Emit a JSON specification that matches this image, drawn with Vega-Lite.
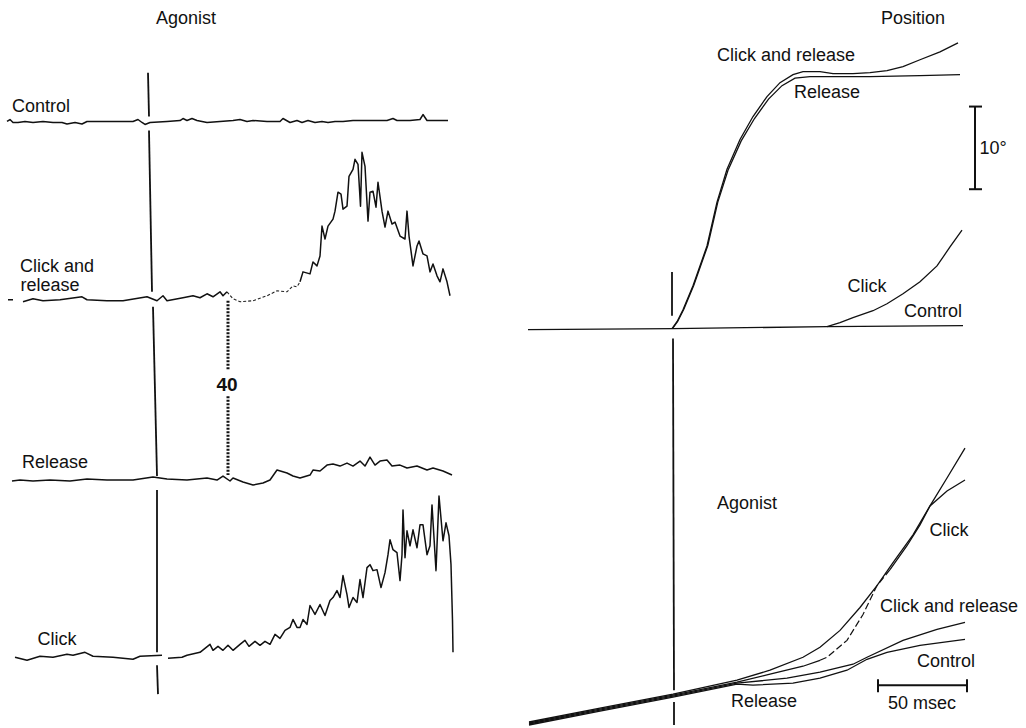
{
  "$schema": "https://vega.github.io/schema/vega-lite/v6.json",
  "width": 1026,
  "height": 728,
  "autosize": {"type": "fit", "contains": "padding"},
  "padding": 0,
  "background": "white",
  "config": {"view": {"stroke": null}},
  "datasets": {
    "traces": [
      {"s": "L_control", "x": 7, "y": 122}, {"s": "L_control", "x": 10, "y": 120}, {"s": "L_control", "x": 13, "y": 123}, {"s": "L_control", "x": 18, "y": 123}, {"s": "L_control", "x": 25, "y": 122}, {"s": "L_control", "x": 33, "y": 123}, {"s": "L_control", "x": 43, "y": 122}, {"s": "L_control", "x": 53, "y": 123}, {"s": "L_control", "x": 62, "y": 123}, {"s": "L_control", "x": 67, "y": 124.5}, {"s": "L_control", "x": 75, "y": 123}, {"s": "L_control", "x": 82, "y": 124.5}, {"s": "L_control", "x": 87, "y": 122}, {"s": "L_control", "x": 100, "y": 122}, {"s": "L_control", "x": 117, "y": 122}, {"s": "L_control", "x": 133, "y": 122}, {"s": "L_control", "x": 138, "y": 120}, {"s": "L_control", "x": 142, "y": 123}, {"s": "L_control", "x": 145, "y": 125}, {"s": "L_control", "x": 150, "y": 123}, {"s": "L_control", "x": 167, "y": 122}, {"s": "L_control", "x": 180, "y": 121}, {"s": "L_control", "x": 183, "y": 119}, {"s": "L_control", "x": 187, "y": 121}, {"s": "L_control", "x": 192, "y": 119}, {"s": "L_control", "x": 197, "y": 121}, {"s": "L_control", "x": 207, "y": 123}, {"s": "L_control", "x": 220, "y": 122}, {"s": "L_control", "x": 233, "y": 121}, {"s": "L_control", "x": 240, "y": 120}, {"s": "L_control", "x": 247, "y": 122}, {"s": "L_control", "x": 253, "y": 121}, {"s": "L_control", "x": 267, "y": 122}, {"s": "L_control", "x": 280, "y": 122}, {"s": "L_control", "x": 283, "y": 119}, {"s": "L_control", "x": 290, "y": 123}, {"s": "L_control", "x": 297, "y": 121}, {"s": "L_control", "x": 302, "y": 123}, {"s": "L_control", "x": 308, "y": 121}, {"s": "L_control", "x": 315, "y": 123}, {"s": "L_control", "x": 322, "y": 122}, {"s": "L_control", "x": 328, "y": 123}, {"s": "L_control", "x": 335, "y": 122}, {"s": "L_control", "x": 343, "y": 122}, {"s": "L_control", "x": 353, "y": 121}, {"s": "L_control", "x": 367, "y": 121}, {"s": "L_control", "x": 380, "y": 121}, {"s": "L_control", "x": 387, "y": 121}, {"s": "L_control", "x": 393, "y": 119}, {"s": "L_control", "x": 397, "y": 121}, {"s": "L_control", "x": 410, "y": 121}, {"s": "L_control", "x": 420, "y": 120}, {"s": "L_control", "x": 423, "y": 115}, {"s": "L_control", "x": 427, "y": 121}, {"s": "L_control", "x": 437, "y": 121}, {"s": "L_control", "x": 448, "y": 121},
      {"s": "L_crd", "x": 8, "y": 301}, {"s": "L_crd", "x": 13, "y": 301},
      {"s": "L_cr1", "x": 23, "y": 303}, {"s": "L_cr1", "x": 33, "y": 300}, {"s": "L_cr1", "x": 43, "y": 302}, {"s": "L_cr1", "x": 60, "y": 301}, {"s": "L_cr1", "x": 82, "y": 298}, {"s": "L_cr1", "x": 87, "y": 301}, {"s": "L_cr1", "x": 107, "y": 302}, {"s": "L_cr1", "x": 123, "y": 302}, {"s": "L_cr1", "x": 147, "y": 298}, {"s": "L_cr1", "x": 157, "y": 302}, {"s": "L_cr1", "x": 163, "y": 297}, {"s": "L_cr1", "x": 167, "y": 302}, {"s": "L_cr1", "x": 183, "y": 299}, {"s": "L_cr1", "x": 193, "y": 297}, {"s": "L_cr1", "x": 200, "y": 299}, {"s": "L_cr1", "x": 207, "y": 295}, {"s": "L_cr1", "x": 213, "y": 298}, {"s": "L_cr1", "x": 220, "y": 293}, {"s": "L_cr1", "x": 223, "y": 297}, {"s": "L_cr1", "x": 227, "y": 293},
      {"s": "L_cr2", "x": 227, "y": 293}, {"s": "L_cr2", "x": 233, "y": 300}, {"s": "L_cr2", "x": 240, "y": 303}, {"s": "L_cr2", "x": 253, "y": 302}, {"s": "L_cr2", "x": 267, "y": 297}, {"s": "L_cr2", "x": 277, "y": 292}, {"s": "L_cr2", "x": 287, "y": 293}, {"s": "L_cr2", "x": 293, "y": 287}, {"s": "L_cr2", "x": 297, "y": 288}, {"s": "L_cr2", "x": 300, "y": 283},
      {"s": "L_cr3", "x": 300, "y": 283}, {"s": "L_cr3", "x": 303, "y": 273}, {"s": "L_cr3", "x": 310, "y": 275}, {"s": "L_cr3", "x": 313, "y": 263}, {"s": "L_cr3", "x": 317, "y": 267}, {"s": "L_cr3", "x": 320, "y": 257}, {"s": "L_cr3", "x": 322, "y": 227}, {"s": "L_cr3", "x": 325, "y": 240}, {"s": "L_cr3", "x": 328, "y": 227}, {"s": "L_cr3", "x": 333, "y": 220}, {"s": "L_cr3", "x": 335, "y": 212}, {"s": "L_cr3", "x": 338, "y": 193}, {"s": "L_cr3", "x": 341, "y": 195}, {"s": "L_cr3", "x": 343, "y": 210}, {"s": "L_cr3", "x": 347, "y": 207}, {"s": "L_cr3", "x": 349, "y": 177}, {"s": "L_cr3", "x": 353, "y": 170}, {"s": "L_cr3", "x": 355, "y": 160}, {"s": "L_cr3", "x": 358, "y": 165}, {"s": "L_cr3", "x": 360.5, "y": 207}, {"s": "L_cr3", "x": 362, "y": 153}, {"s": "L_cr3", "x": 365, "y": 167}, {"s": "L_cr3", "x": 368, "y": 222}, {"s": "L_cr3", "x": 370, "y": 193}, {"s": "L_cr3", "x": 373, "y": 192}, {"s": "L_cr3", "x": 376, "y": 208}, {"s": "L_cr3", "x": 378, "y": 183}, {"s": "L_cr3", "x": 382, "y": 212}, {"s": "L_cr3", "x": 385, "y": 228}, {"s": "L_cr3", "x": 388, "y": 212}, {"s": "L_cr3", "x": 392, "y": 225}, {"s": "L_cr3", "x": 395, "y": 223}, {"s": "L_cr3", "x": 400, "y": 237}, {"s": "L_cr3", "x": 405, "y": 240}, {"s": "L_cr3", "x": 407, "y": 212}, {"s": "L_cr3", "x": 409, "y": 237}, {"s": "L_cr3", "x": 413, "y": 267}, {"s": "L_cr3", "x": 417, "y": 247}, {"s": "L_cr3", "x": 419, "y": 242}, {"s": "L_cr3", "x": 423, "y": 255}, {"s": "L_cr3", "x": 427, "y": 257}, {"s": "L_cr3", "x": 430, "y": 273}, {"s": "L_cr3", "x": 433, "y": 265}, {"s": "L_cr3", "x": 437, "y": 277}, {"s": "L_cr3", "x": 440, "y": 283}, {"s": "L_cr3", "x": 443, "y": 270}, {"s": "L_cr3", "x": 447, "y": 283}, {"s": "L_cr3", "x": 450, "y": 297},
      {"s": "L_release", "x": 12, "y": 483}, {"s": "L_release", "x": 20, "y": 482}, {"s": "L_release", "x": 33, "y": 483}, {"s": "L_release", "x": 50, "y": 482}, {"s": "L_release", "x": 70, "y": 483}, {"s": "L_release", "x": 87, "y": 481}, {"s": "L_release", "x": 107, "y": 482}, {"s": "L_release", "x": 133, "y": 482}, {"s": "L_release", "x": 153, "y": 479}, {"s": "L_release", "x": 167, "y": 481}, {"s": "L_release", "x": 187, "y": 482}, {"s": "L_release", "x": 207, "y": 480}, {"s": "L_release", "x": 217, "y": 482}, {"s": "L_release", "x": 223, "y": 478}, {"s": "L_release", "x": 230, "y": 483}, {"s": "L_release", "x": 233, "y": 480}, {"s": "L_release", "x": 243, "y": 484}, {"s": "L_release", "x": 253, "y": 487}, {"s": "L_release", "x": 263, "y": 485}, {"s": "L_release", "x": 270, "y": 482}, {"s": "L_release", "x": 277, "y": 472}, {"s": "L_release", "x": 287, "y": 475}, {"s": "L_release", "x": 293, "y": 478}, {"s": "L_release", "x": 300, "y": 480}, {"s": "L_release", "x": 310, "y": 477}, {"s": "L_release", "x": 313, "y": 472}, {"s": "L_release", "x": 320, "y": 473}, {"s": "L_release", "x": 327, "y": 467}, {"s": "L_release", "x": 333, "y": 466}, {"s": "L_release", "x": 340, "y": 468}, {"s": "L_release", "x": 347, "y": 465}, {"s": "L_release", "x": 353, "y": 468}, {"s": "L_release", "x": 360, "y": 463}, {"s": "L_release", "x": 365, "y": 468}, {"s": "L_release", "x": 370, "y": 459}, {"s": "L_release", "x": 375, "y": 467}, {"s": "L_release", "x": 380, "y": 463}, {"s": "L_release", "x": 387, "y": 462}, {"s": "L_release", "x": 392, "y": 468}, {"s": "L_release", "x": 400, "y": 467}, {"s": "L_release", "x": 407, "y": 470}, {"s": "L_release", "x": 417, "y": 468}, {"s": "L_release", "x": 427, "y": 472}, {"s": "L_release", "x": 433, "y": 470}, {"s": "L_release", "x": 443, "y": 473}, {"s": "L_release", "x": 452, "y": 477},
      {"s": "L_click_a", "x": 15, "y": 660}, {"s": "L_click_a", "x": 27, "y": 663}, {"s": "L_click_a", "x": 40, "y": 659}, {"s": "L_click_a", "x": 53, "y": 660}, {"s": "L_click_a", "x": 67, "y": 657}, {"s": "L_click_a", "x": 73, "y": 658}, {"s": "L_click_a", "x": 85, "y": 655}, {"s": "L_click_a", "x": 93, "y": 659}, {"s": "L_click_a", "x": 113, "y": 660}, {"s": "L_click_a", "x": 133, "y": 662}, {"s": "L_click_a", "x": 140, "y": 659}, {"s": "L_click_a", "x": 162, "y": 658},
      {"s": "L_click_b", "x": 168, "y": 661}, {"s": "L_click_b", "x": 182, "y": 660}, {"s": "L_click_b", "x": 187, "y": 658}, {"s": "L_click_b", "x": 200, "y": 655}, {"s": "L_click_b", "x": 210, "y": 647}, {"s": "L_click_b", "x": 213, "y": 653}, {"s": "L_click_b", "x": 218, "y": 649}, {"s": "L_click_b", "x": 223, "y": 653}, {"s": "L_click_b", "x": 228, "y": 648}, {"s": "L_click_b", "x": 233, "y": 653}, {"s": "L_click_b", "x": 240, "y": 647}, {"s": "L_click_b", "x": 245, "y": 643}, {"s": "L_click_b", "x": 249, "y": 649}, {"s": "L_click_b", "x": 255, "y": 644}, {"s": "L_click_b", "x": 260, "y": 648}, {"s": "L_click_b", "x": 265, "y": 644}, {"s": "L_click_b", "x": 270, "y": 647}, {"s": "L_click_b", "x": 275, "y": 637}, {"s": "L_click_b", "x": 280, "y": 641}, {"s": "L_click_b", "x": 285, "y": 633}, {"s": "L_click_b", "x": 290, "y": 630}, {"s": "L_click_b", "x": 293, "y": 622}, {"s": "L_click_b", "x": 297, "y": 630}, {"s": "L_click_b", "x": 300, "y": 630}, {"s": "L_click_b", "x": 303, "y": 622}, {"s": "L_click_b", "x": 307, "y": 627}, {"s": "L_click_b", "x": 310, "y": 608}, {"s": "L_click_b", "x": 315, "y": 617}, {"s": "L_click_b", "x": 320, "y": 607}, {"s": "L_click_b", "x": 325, "y": 618}, {"s": "L_click_b", "x": 330, "y": 603}, {"s": "L_click_b", "x": 333, "y": 600}, {"s": "L_click_b", "x": 337, "y": 593}, {"s": "L_click_b", "x": 340, "y": 600}, {"s": "L_click_b", "x": 343, "y": 578}, {"s": "L_click_b", "x": 347, "y": 597}, {"s": "L_click_b", "x": 349, "y": 610}, {"s": "L_click_b", "x": 353, "y": 600}, {"s": "L_click_b", "x": 357, "y": 605}, {"s": "L_click_b", "x": 360, "y": 582}, {"s": "L_click_b", "x": 363, "y": 600}, {"s": "L_click_b", "x": 367, "y": 570}, {"s": "L_click_b", "x": 370, "y": 567}, {"s": "L_click_b", "x": 373, "y": 573}, {"s": "L_click_b", "x": 377, "y": 572}, {"s": "L_click_b", "x": 381, "y": 590}, {"s": "L_click_b", "x": 385, "y": 575}, {"s": "L_click_b", "x": 388, "y": 557}, {"s": "L_click_b", "x": 390, "y": 542}, {"s": "L_click_b", "x": 393, "y": 552}, {"s": "L_click_b", "x": 397, "y": 555}, {"s": "L_click_b", "x": 400, "y": 583}, {"s": "L_click_b", "x": 402, "y": 557}, {"s": "L_click_b", "x": 403, "y": 512}, {"s": "L_click_b", "x": 405, "y": 560}, {"s": "L_click_b", "x": 407, "y": 533}, {"s": "L_click_b", "x": 410, "y": 548}, {"s": "L_click_b", "x": 413, "y": 532}, {"s": "L_click_b", "x": 417, "y": 550}, {"s": "L_click_b", "x": 420, "y": 527}, {"s": "L_click_b", "x": 423, "y": 527}, {"s": "L_click_b", "x": 427, "y": 557}, {"s": "L_click_b", "x": 430, "y": 548}, {"s": "L_click_b", "x": 432, "y": 507}, {"s": "L_click_b", "x": 436, "y": 573}, {"s": "L_click_b", "x": 439, "y": 498}, {"s": "L_click_b", "x": 443, "y": 543}, {"s": "L_click_b", "x": 446, "y": 525}, {"s": "L_click_b", "x": 449, "y": 538}, {"s": "L_click_b", "x": 451, "y": 567}, {"s": "L_click_b", "x": 452.5, "y": 623}, {"s": "L_click_b", "x": 453, "y": 655},
      {"s": "P_control", "x": 528, "y": 331}, {"s": "P_control", "x": 673, "y": 330}, {"s": "P_control", "x": 827, "y": 328}, {"s": "P_control", "x": 963, "y": 327},
      {"s": "P_click", "x": 827, "y": 328}, {"s": "P_click", "x": 840, "y": 324}, {"s": "P_click", "x": 853, "y": 319}, {"s": "P_click", "x": 873, "y": 312}, {"s": "P_click", "x": 887, "y": 305}, {"s": "P_click", "x": 903, "y": 295}, {"s": "P_click", "x": 920, "y": 283}, {"s": "P_click", "x": 937, "y": 267}, {"s": "P_click", "x": 950, "y": 248}, {"s": "P_click", "x": 962, "y": 231},
      {"s": "P_cr", "x": 672, "y": 330}, {"s": "P_cr", "x": 677, "y": 323}, {"s": "P_cr", "x": 683, "y": 311}, {"s": "P_cr", "x": 693, "y": 287}, {"s": "P_cr", "x": 707, "y": 247}, {"s": "P_cr", "x": 717, "y": 203}, {"s": "P_cr", "x": 727, "y": 170}, {"s": "P_cr", "x": 740, "y": 140}, {"s": "P_cr", "x": 753, "y": 117}, {"s": "P_cr", "x": 767, "y": 97}, {"s": "P_cr", "x": 780, "y": 83}, {"s": "P_cr", "x": 793, "y": 75}, {"s": "P_cr", "x": 803, "y": 72}, {"s": "P_cr", "x": 820, "y": 72}, {"s": "P_cr", "x": 833, "y": 74}, {"s": "P_cr", "x": 853, "y": 74}, {"s": "P_cr", "x": 870, "y": 73}, {"s": "P_cr", "x": 887, "y": 71}, {"s": "P_cr", "x": 903, "y": 67}, {"s": "P_cr", "x": 920, "y": 60}, {"s": "P_cr", "x": 940, "y": 52}, {"s": "P_cr", "x": 958, "y": 43},
      {"s": "P_release", "x": 672.5, "y": 330}, {"s": "P_release", "x": 677.8, "y": 322.5}, {"s": "P_release", "x": 683.8, "y": 310.5}, {"s": "P_release", "x": 693.8, "y": 286.5}, {"s": "P_release", "x": 707.8, "y": 246.5}, {"s": "P_release", "x": 717.8, "y": 203}, {"s": "P_release", "x": 728, "y": 171}, {"s": "P_release", "x": 741.2, "y": 141.5}, {"s": "P_release", "x": 754.5, "y": 119}, {"s": "P_release", "x": 768.5, "y": 99.5}, {"s": "P_release", "x": 782, "y": 86}, {"s": "P_release", "x": 795, "y": 78.5}, {"s": "P_release", "x": 810, "y": 77}, {"s": "P_release", "x": 837, "y": 77}, {"s": "P_release", "x": 870, "y": 77}, {"s": "P_release", "x": 920, "y": 76}, {"s": "P_release", "x": 960, "y": 75},
      {"s": "A_B", "x": 529, "y": 725}, {"s": "A_B", "x": 600, "y": 711}, {"s": "A_B", "x": 673, "y": 697}, {"s": "A_B", "x": 737, "y": 683}, {"s": "A_B", "x": 770, "y": 673}, {"s": "A_B", "x": 803, "y": 660}, {"s": "A_B", "x": 820, "y": 650}, {"s": "A_B", "x": 840, "y": 633}, {"s": "A_B", "x": 860, "y": 610}, {"s": "A_B", "x": 877, "y": 588}, {"s": "A_B", "x": 893, "y": 565}, {"s": "A_B", "x": 913, "y": 537}, {"s": "A_B", "x": 930, "y": 508}, {"s": "A_B", "x": 947, "y": 493}, {"s": "A_B", "x": 965, "y": 482},
      {"s": "A_A1", "x": 529, "y": 726}, {"s": "A_A1", "x": 600, "y": 712}, {"s": "A_A1", "x": 673, "y": 698}, {"s": "A_A1", "x": 737, "y": 685}, {"s": "A_A1", "x": 770, "y": 677}, {"s": "A_A1", "x": 803, "y": 669}, {"s": "A_A1", "x": 820, "y": 663},
      {"s": "A_A2", "x": 820, "y": 663}, {"s": "A_A2", "x": 827, "y": 660}, {"s": "A_A2", "x": 847, "y": 643}, {"s": "A_A2", "x": 863, "y": 617}, {"s": "A_A2", "x": 877, "y": 588}, {"s": "A_A2", "x": 890, "y": 572},
      {"s": "A_A3", "x": 890, "y": 572}, {"s": "A_A3", "x": 907, "y": 548}, {"s": "A_A3", "x": 920, "y": 527}, {"s": "A_A3", "x": 930, "y": 508}, {"s": "A_A3", "x": 947, "y": 480}, {"s": "A_A3", "x": 965, "y": 450},
      {"s": "A_C", "x": 529, "y": 727}, {"s": "A_C", "x": 600, "y": 713}, {"s": "A_C", "x": 673, "y": 699}, {"s": "A_C", "x": 737, "y": 686}, {"s": "A_C", "x": 787, "y": 681}, {"s": "A_C", "x": 820, "y": 675}, {"s": "A_C", "x": 853, "y": 667}, {"s": "A_C", "x": 867, "y": 660}, {"s": "A_C", "x": 903, "y": 643}, {"s": "A_C", "x": 937, "y": 632}, {"s": "A_C", "x": 965, "y": 625},
      {"s": "A_D", "x": 529, "y": 728}, {"s": "A_D", "x": 600, "y": 714}, {"s": "A_D", "x": 673, "y": 700}, {"s": "A_D", "x": 737, "y": 687}, {"s": "A_D", "x": 753, "y": 688}, {"s": "A_D", "x": 793, "y": 686}, {"s": "A_D", "x": 820, "y": 681}, {"s": "A_D", "x": 847, "y": 673}, {"s": "A_D", "x": 867, "y": 662}, {"s": "A_D", "x": 887, "y": 655}, {"s": "A_D", "x": 920, "y": 648}, {"s": "A_D", "x": 965, "y": 642}
    ],
    "rules": [
      {"k": "stim", "x": 148, "y": 73, "x2": 149, "y2": 117},
      {"k": "stim", "x": 149, "y": 131, "x2": 152, "y2": 293},
      {"k": "stim", "x": 153, "y": 308, "x2": 157, "y2": 478},
      {"k": "stim", "x": 157, "y": 492, "x2": 157, "y2": 655},
      {"k": "stim", "x": 157, "y": 668, "x2": 158, "y2": 697},
      {"k": "stim", "x": 672, "y": 273, "x2": 672, "y2": 317},
      {"k": "stim", "x": 673, "y": 340, "x2": 674, "y2": 693},
      {"k": "stim", "x": 674, "y": 705, "x2": 674, "y2": 728},
      {"k": "bar", "x": 975, "y": 107, "x2": 975, "y2": 190},
      {"k": "bar", "x": 969, "y": 107, "x2": 982, "y2": 107},
      {"k": "bar", "x": 969, "y": 190, "x2": 982, "y2": 190},
      {"k": "bar", "x": 878, "y": 688, "x2": 967, "y2": 688},
      {"k": "bar", "x": 878, "y": 682, "x2": 878, "y2": 695},
      {"k": "bar", "x": 967, "y": 682, "x2": 967, "y2": 695},
      {"k": "dot", "x": 228, "y": 302, "x2": 228, "y2": 372},
      {"k": "dot", "x": 228, "y": 398, "x2": 228, "y2": 477}
    ],
    "labels": [
      {"t": "Agonist", "x": 186, "y": 19},
      {"t": "Position", "x": 913, "y": 19},
      {"t": "Control", "x": 41, "y": 107},
      {"t": "Click and", "x": 57, "y": 268},
      {"t": "release", "x": 50, "y": 287},
      {"t": "Release", "x": 55, "y": 465},
      {"t": "Click", "x": 57, "y": 643},
      {"t": "Click and release", "x": 786, "y": 56},
      {"t": "Release", "x": 827, "y": 93},
      {"t": "10°", "x": 993, "y": 150},
      {"t": "Click", "x": 867, "y": 288},
      {"t": "Control", "x": 933, "y": 313},
      {"t": "Agonist", "x": 747, "y": 506},
      {"t": "Click", "x": 949, "y": 533},
      {"t": "Click and release", "x": 949, "y": 610},
      {"t": "Control", "x": 946, "y": 665},
      {"t": "Release", "x": 764, "y": 705},
      {"t": "50 msec", "x": 922, "y": 707}
    ],
    "num": [
      {"t": "40", "x": 227, "y": 387}
    ]
  },
  "layer": [
    {
      "data": {"name": "traces"},
      "transform": [{"filter": "indexof(['L_control','L_crd','L_cr1','L_cr3','L_release','L_click_a','L_click_b'], datum.s) >= 0"}],
      "mark": {"type": "line", "color": "#111", "strokeWidth": 1.5, "strokeJoin": "round"},
      "encoding": {
        "x": {"field": "x", "type": "quantitative", "scale": {"domain": [0, 1026], "nice": false, "zero": false}, "axis": null},
        "y": {"field": "y", "type": "quantitative", "scale": {"domain": [0, 728], "nice": false, "zero": false, "reverse": true}, "axis": null},
        "detail": {"field": "s"}
      }
    },
    {
      "data": {"name": "traces"},
      "transform": [{"filter": "datum.s == 'L_cr2'"}],
      "mark": {"type": "line", "color": "#222", "strokeWidth": 1.1, "strokeDash": [3, 2]},
      "encoding": {
        "x": {"field": "x", "type": "quantitative", "scale": {"domain": [0, 1026], "nice": false, "zero": false}, "axis": null},
        "y": {"field": "y", "type": "quantitative", "scale": {"domain": [0, 728], "nice": false, "zero": false, "reverse": true}, "axis": null},
        "detail": {"field": "s"}
      }
    },
    {
      "data": {"name": "traces"},
      "transform": [{"filter": "indexof(['P_control','P_click','P_cr','P_release','A_B','A_A1','A_A3','A_C','A_D'], datum.s) >= 0"}],
      "mark": {"type": "line", "color": "#111", "strokeWidth": 1.3},
      "encoding": {
        "x": {"field": "x", "type": "quantitative", "scale": {"domain": [0, 1026], "nice": false, "zero": false}, "axis": null},
        "y": {"field": "y", "type": "quantitative", "scale": {"domain": [0, 728], "nice": false, "zero": false, "reverse": true}, "axis": null},
        "detail": {"field": "s"}
      }
    },
    {
      "data": {"name": "traces"},
      "transform": [{"filter": "datum.s == 'A_A2'"}],
      "mark": {"type": "line", "color": "#111", "strokeWidth": 1.2, "strokeDash": [7, 3]},
      "encoding": {
        "x": {"field": "x", "type": "quantitative", "scale": {"domain": [0, 1026], "nice": false, "zero": false}, "axis": null},
        "y": {"field": "y", "type": "quantitative", "scale": {"domain": [0, 728], "nice": false, "zero": false, "reverse": true}, "axis": null},
        "detail": {"field": "s"}
      }
    },
    {
      "data": {"name": "rules"},
      "transform": [{"filter": "datum.k == 'stim'"}],
      "mark": {"type": "rule", "color": "#111", "strokeWidth": 1.8},
      "encoding": {
        "x": {"field": "x", "type": "quantitative", "scale": {"domain": [0, 1026], "nice": false, "zero": false}, "axis": null},
        "y": {"field": "y", "type": "quantitative", "scale": {"domain": [0, 728], "nice": false, "zero": false, "reverse": true}, "axis": null},
        "x2": {"field": "x2"},
        "y2": {"field": "y2"}
      }
    },
    {
      "data": {"name": "rules"},
      "transform": [{"filter": "datum.k == 'bar'"}],
      "mark": {"type": "rule", "color": "#111", "strokeWidth": 2},
      "encoding": {
        "x": {"field": "x", "type": "quantitative", "scale": {"domain": [0, 1026], "nice": false, "zero": false}, "axis": null},
        "y": {"field": "y", "type": "quantitative", "scale": {"domain": [0, 728], "nice": false, "zero": false, "reverse": true}, "axis": null},
        "x2": {"field": "x2"},
        "y2": {"field": "y2"}
      }
    },
    {
      "data": {"name": "rules"},
      "transform": [{"filter": "datum.k == 'dot'"}],
      "mark": {"type": "rule", "color": "#111", "strokeWidth": 3, "strokeDash": [2, 1.5]},
      "encoding": {
        "x": {"field": "x", "type": "quantitative", "scale": {"domain": [0, 1026], "nice": false, "zero": false}, "axis": null},
        "y": {"field": "y", "type": "quantitative", "scale": {"domain": [0, 728], "nice": false, "zero": false, "reverse": true}, "axis": null},
        "x2": {"field": "x2"},
        "y2": {"field": "y2"}
      }
    },
    {
      "data": {"name": "labels"},
      "mark": {"type": "text", "font": "Liberation Sans", "fontSize": 18, "align": "center", "baseline": "middle", "color": "#111"},
      "encoding": {
        "x": {"field": "x", "type": "quantitative", "scale": {"domain": [0, 1026], "nice": false, "zero": false}, "axis": null},
        "y": {"field": "y", "type": "quantitative", "scale": {"domain": [0, 728], "nice": false, "zero": false, "reverse": true}, "axis": null},
        "text": {"field": "t"}
      }
    },
    {
      "data": {"name": "num"},
      "mark": {"type": "text", "font": "Liberation Sans", "fontSize": 19, "fontWeight": "bold", "align": "center", "baseline": "middle", "color": "#111"},
      "encoding": {
        "x": {"field": "x", "type": "quantitative", "scale": {"domain": [0, 1026], "nice": false, "zero": false}, "axis": null},
        "y": {"field": "y", "type": "quantitative", "scale": {"domain": [0, 728], "nice": false, "zero": false, "reverse": true}, "axis": null},
        "text": {"field": "t"}
      }
    }
  ]
}
